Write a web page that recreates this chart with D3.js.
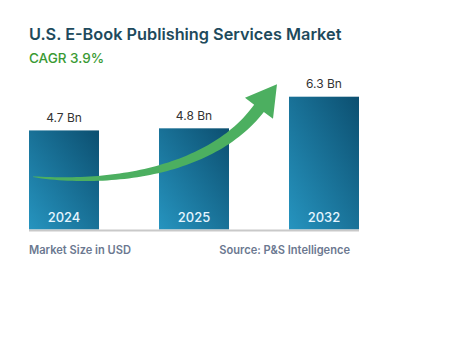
<!DOCTYPE html>
<html>
<head>
<meta charset="utf-8">
<script src="https://cdn.jsdelivr.net/npm/d3@7"></script>
<style>
html,body{margin:0;padding:0;background:#fff;}
svg{display:block;font-family:Inter,"Open Sans",sans-serif;}
</style>
</head>
<body>
<svg id="chart" width="451" height="340"></svg>
<script>
const title = "U.S. E-Book Publishing Services Market";
const subtitle = "CAGR 3.9%";
const years = ["2024", "2025", "2032"];
const values = [4.7, 4.8, 6.3];
const valueLabels = ["4.7 Bn", "4.8 Bn", "6.3 Bn"];
const footLeft = "Market Size in USD";
const footRight = "Source: P&S Intelligence";

const svg = d3.select("#chart");
const defs = svg.append("defs");
const grad = defs.append("linearGradient").attr("id","barGrad")
  .attr("x1","0").attr("y1","1").attr("x2","1").attr("y2","0");
grad.append("stop").attr("offset","0%").attr("stop-color","#2694bf");
grad.append("stop").attr("offset","100%").attr("stop-color","#0c4f70");

const x = d3.scaleBand().domain(years).range([29, 359]).paddingInner(0.4615).paddingOuter(0);
const y = d3.scaleLinear().domain([0, 6.3]).range([229.5, 96.7]);

// title
svg.append("text").attr("x",29).attr("y",40).text(title)
  .attr("font-size",16.3).attr("font-weight",600).attr("fill","#1e4a5c");
svg.append("text").attr("x",29).attr("y",63).text(subtitle)
  .attr("font-size",13.5).attr("font-weight",500).attr("fill","#3a9a34");

// bars
svg.selectAll("rect.bar").data(values).join("rect").attr("class","bar")
  .attr("x",(d,i)=>x(years[i])).attr("width",x.bandwidth())
  .attr("y",d=>y(d)).attr("height",d=>y(0)-y(d))
  .attr("fill","url(#barGrad)");

// baseline
svg.append("rect").attr("x",x.range()[0]).attr("width",x.range()[1]-x.range()[0])
  .attr("y",y(0)).attr("height",2).attr("fill","#c9c9c9");

// value labels
svg.selectAll("text.val").data(values).join("text").attr("class","val")
  .attr("x",(d,i)=>x(years[i])+x.bandwidth()/2).attr("y",d=>y(d)-8.5)
  .attr("text-anchor","middle").attr("font-size",12).attr("fill","#333")
  .text((d,i)=>valueLabels[i]);

// year labels
svg.selectAll("text.yr").data(years).join("text").attr("class","yr")
  .attr("x",d=>x(d)+x.bandwidth()/2).attr("y",y(0)-7.5)
  .attr("text-anchor","middle").attr("font-size",13).attr("font-weight",500).attr("fill","#e4f5ff")
  .text(d=>d);

// growth arrow (decorative), anchored to bar geometry
const bw = x.bandwidth();
const P0=[x(years[0])+4, y(2.5)], P1=[x(years[0])+bw+20, y(2.07)],
      P2=[x(years[1])+55, y(2.9)], P3=[x(years[2])-30, y(5.75)];
function bez(t){
  const u=1-t;
  return [u*u*u*P0[0]+3*u*u*t*P1[0]+3*u*t*t*P2[0]+t*t*t*P3[0],
          u*u*u*P0[1]+3*u*u*t*P1[1]+3*u*t*t*P2[1]+t*t*t*P3[1]];
}
function dbez(t){
  const u=1-t;
  return [3*u*u*(P1[0]-P0[0])+6*u*t*(P2[0]-P1[0])+3*t*t*(P3[0]-P2[0]),
          3*u*u*(P1[1]-P0[1])+6*u*t*(P2[1]-P1[1])+3*t*t*(P3[1]-P2[1])];
}
const N=60, left=[], right=[];
for(let i=0;i<=N;i++){
  const t=i/N, p=bez(t), d=dbez(t), L=Math.hypot(d[0],d[1]);
  const nx=-d[1]/L, ny=d[0]/L;
  const w=(0.6+11.5*Math.pow(t,0.7))/2;
  left.push([p[0]+nx*w,p[1]+ny*w]); right.push([p[0]-nx*w,p[1]-ny*w]);
}
const dE=dbez(1), LE=Math.hypot(dE[0],dE[1]);
const ux=dE[0]/LE, uy=dE[1]/LE, nx=-uy, ny=ux;
const half=17.5, head=30;
const tip=[P3[0]+ux*head, P3[1]+uy*head];
const wingA=[P3[0]+nx*half, P3[1]+ny*half], wingB=[P3[0]-nx*half, P3[1]-ny*half];
const pts=[...left, wingA, tip, wingB, ...right.reverse()];
svg.append("path").attr("d", d3.line()(pts)+"Z").attr("fill","#4caf60");

// footer
svg.append("text").attr("x",29).attr("y",253.5).text(footLeft)
  .attr("font-size",11.1).attr("font-weight",600).attr("fill","#6b7890");
svg.append("text").attr("x",350).attr("y",253.5).attr("text-anchor","end").text(footRight)
  .attr("font-size",11.1).attr("font-weight",600).attr("fill","#6b7890");
</script>
</body>
</html>
